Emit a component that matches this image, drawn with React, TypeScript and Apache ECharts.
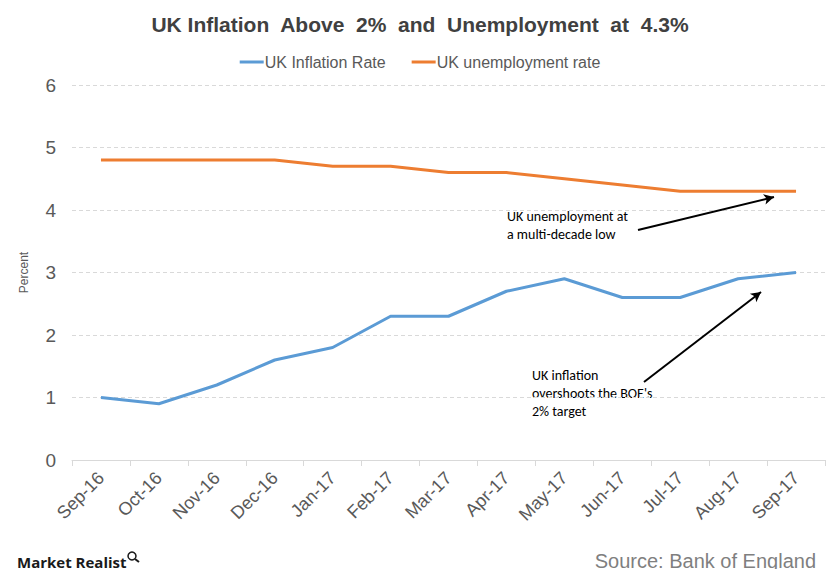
import React, { useEffect, useRef } from "react";
import * as echarts from "echarts";

const categories = ["Sep-16","Oct-16","Nov-16","Dec-16","Jan-17","Feb-17","Mar-17","Apr-17","May-17","Jun-17","Jul-17","Aug-17","Sep-17"];
const inflation = [1.0, 0.9, 1.2, 1.6, 1.8, 2.3, 2.3, 2.7, 2.9, 2.6, 2.6, 2.9, 3.0];
const unemployment = [4.8, 4.8, 4.8, 4.8, 4.7, 4.7, 4.6, 4.6, 4.5, 4.4, 4.3, 4.3, 4.3];
const yTicks = [0, 1, 2, 3, 4, 5, 6];

const narrow = "'Liberation Sans Narrow', 'Arial Narrow', 'Liberation Sans', Arial, sans-serif";
const sans = "'Liberation Sans', Arial, sans-serif";
const note = "Carlito, Calibri, 'Open Sans', 'Noto Sans', sans-serif";

export default function App() {
  const ref = useRef<HTMLDivElement>(null);
  useEffect(() => {
    const chart = echarts.init(ref.current!, null, { renderer: "svg" });
    chart.setOption({
      animation: false,
      backgroundColor: "#ffffff",
      title: {
        text: "UK Inflation  Above  2%  and  Unemployment  at  4.3%",
        left: "center",
        top: 9,
        textStyle: { fontFamily: narrow, fontSize: 21, fontWeight: "bold", color: "#404040" },
      },
      legend: {
        top: 49,
        left: "center",
        itemWidth: 24,
        itemHeight: 3,
        itemGap: 26,
        icon: "rect",
        textStyle: { fontFamily: narrow, fontSize: 16, color: "#595959", padding: [0, 0, 0, -4] },
        data: ["UK Inflation Rate", "UK unemployment rate"],
      },
      grid: { left: 72, right: 15, top: 85, bottom: 117 },
      xAxis: {
        type: "category",
        data: categories,
        boundaryGap: true,
        axisLine: { show: true, lineStyle: { color: "#d9d9d9", width: 1 } },
        axisTick: { show: true, alignWithLabel: false, length: 6, lineStyle: { color: "#d9d9d9" } },
        axisLabel: { rotate: 45, fontFamily: sans, fontSize: 18, color: "#595959", margin: 15, interval: 0 },
      },
      yAxis: {
        type: "value",
        min: 0,
        max: 6,
        interval: 1,
        name: "Percent",
        nameLocation: "middle",
        nameRotate: 90,
        nameGap: 42,
        nameTextStyle: { fontFamily: sans, fontSize: 12, color: "#595959" },
        axisLine: { show: false },
        axisTick: { show: false },
        axisLabel: {
          fontFamily: sans, fontSize: 19, color: "#595959", margin: 16,
          formatter: (v: number) => (yTicks.includes(v) ? String(v) : ""),
        },
        splitLine: { show: true, lineStyle: { color: "#d9d9d9", type: [4, 3], width: 1 } },
      },
      series: [
        {
          name: "UK Inflation Rate",
          type: "line",
          data: inflation,
          symbol: "none",
          lineStyle: { color: "#5b9bd5", width: 3 },
          itemStyle: { color: "#5b9bd5" },
          markLine: {
            silent: true,
            symbol: ["none", "arrow"],
            symbolSize: [8, 10],
            label: { show: false },
            lineStyle: { color: "#000000", width: 2, type: "solid" },
            data: [
              [{ x: 644, y: 382 }, { x: 761, y: 292 }],
              [{ x: 638, y: 230 }, { x: 774, y: 197 }],
            ],
          },
        },
        {
          name: "UK unemployment rate",
          type: "line",
          data: unemployment,
          symbol: "none",
          lineStyle: { color: "#ed7d31", width: 3 },
          itemStyle: { color: "#ed7d31" },
        },
      ],
      graphic: [
        {
          type: "text", left: 507, top: 207,
          style: { text: "UK unemployment at\na multi-decade low", font: `14px ${note}`, fill: "#000000", lineHeight: 18 },
        },
        {
          type: "text", left: 532, top: 366,
          style: { text: "UK inflation\novershoots the BOE's\n2% target", font: `14px ${note}`, fill: "#000000", lineHeight: 18 },
        },
        {
          type: "text", right: 24, top: 551,
          style: { text: "Source: Bank of England", font: `20px ${sans}`, fill: "#7f7f7f" },
        },
        {
          type: "text", left: 17, top: 554,
          style: { text: "Market Realist", font: `bold 15px 'Open Sans', 'Noto Sans', sans-serif`, fill: "#1a1a1a" },
        },
        {
          type: "circle", shape: { cx: 132, cy: 556, r: 4 },
          style: { fill: "none", stroke: "#1a1a1a", lineWidth: 1.5 },
        },
        {
          type: "line", shape: { x1: 135, y1: 559, x2: 139, y2: 562 },
          style: { stroke: "#1a1a1a", lineWidth: 2 },
        },
      ],
    });
    return () => chart.dispose();
  }, []);
  return <div ref={ref} style={{ width: 840, height: 577, margin: -8 }} />;
}
